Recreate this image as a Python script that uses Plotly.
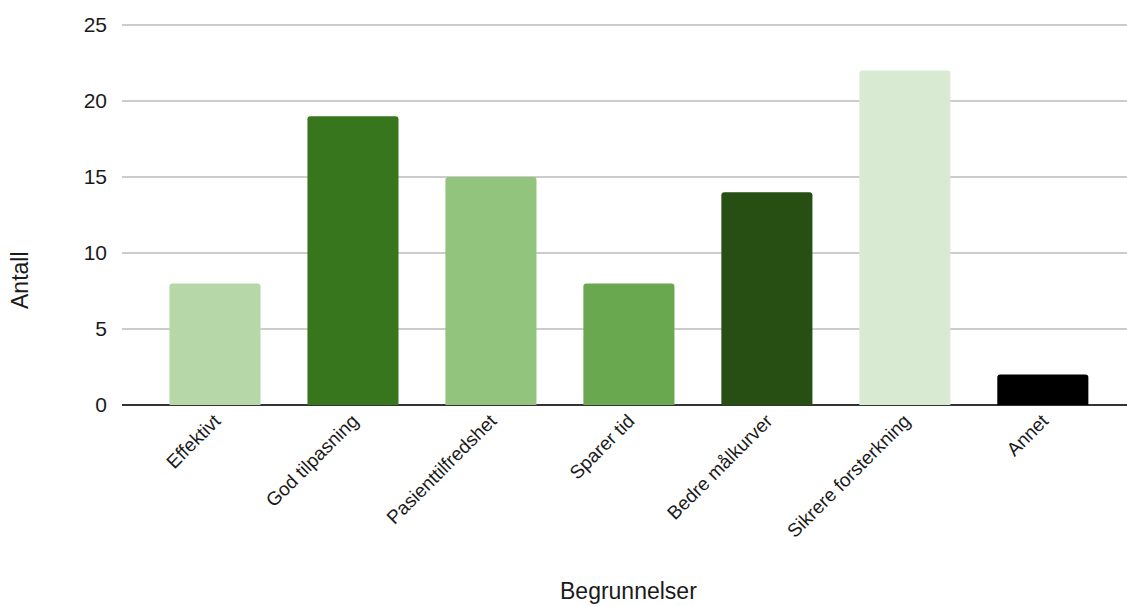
import plotly.graph_objects as go

categories = ["Effektivt", "God tilpasning", "Pasienttilfredshet", "Sparer tid",
              "Bedre målkurver", "Sikrere forsterkning", "Annet"]
counts = [8, 19, 15, 8, 14, 22, 2]
bar_colors = ["#b6d7a8", "#38761d", "#93c47d", "#6aa84f", "#274e13", "#d9ead3", "#000000"]
y_ticks = [0, 5, 10, 15, 20, 25]

font_family = "Liberation Sans, Arial, sans-serif"
text_color = "#1a1a1a"

fig = go.Figure(
    go.Bar(
        x=categories,
        y=counts,
        marker=dict(color=bar_colors, line=dict(width=0)),
        width=0.66,
        hoverinfo="x+y",
    )
)

fig.update_layout(
    width=1127,
    height=606,
    margin=dict(l=122, r=0, t=23, b=201),
    paper_bgcolor="white",
    plot_bgcolor="white",
    barcornerradius=3,
    showlegend=False,
    font=dict(family=font_family, color=text_color),
    annotations=[
        dict(text="Begrunnelser", xref="paper", yref="paper", x=(628 - 122) / 1005,
             y=-(591 - 405) / 382, xanchor="center", yanchor="middle",
             showarrow=False, font=dict(size=23, color=text_color)),
        dict(text="Antall", xref="paper", yref="paper", x=-(122 - 20) / 1005,
             y=(405 - 280) / 382, xanchor="center", yanchor="middle", textangle=-90,
             showarrow=False, font=dict(size=23, color=text_color)),
    ],
)

fig.update_xaxes(
    range=[-0.674, 6.61],
    tickangle=-45,
    tickfont=dict(size=19, color=text_color),
    showgrid=False,
    showline=False,
    ticks="",
    automargin=False,
)

fig.update_yaxes(
    range=[0, 25.13],
    tickvals=y_ticks,
    tickfont=dict(size=21, color=text_color),
    showgrid=True,
    gridcolor="#cccccc",
    gridwidth=1.5,
    zeroline=True,
    zerolinecolor="#333333",
    zerolinewidth=2,
    ticks="",
    ticklabelstandoff=14,
    automargin=False,
)

fig.write_html("out.html")
